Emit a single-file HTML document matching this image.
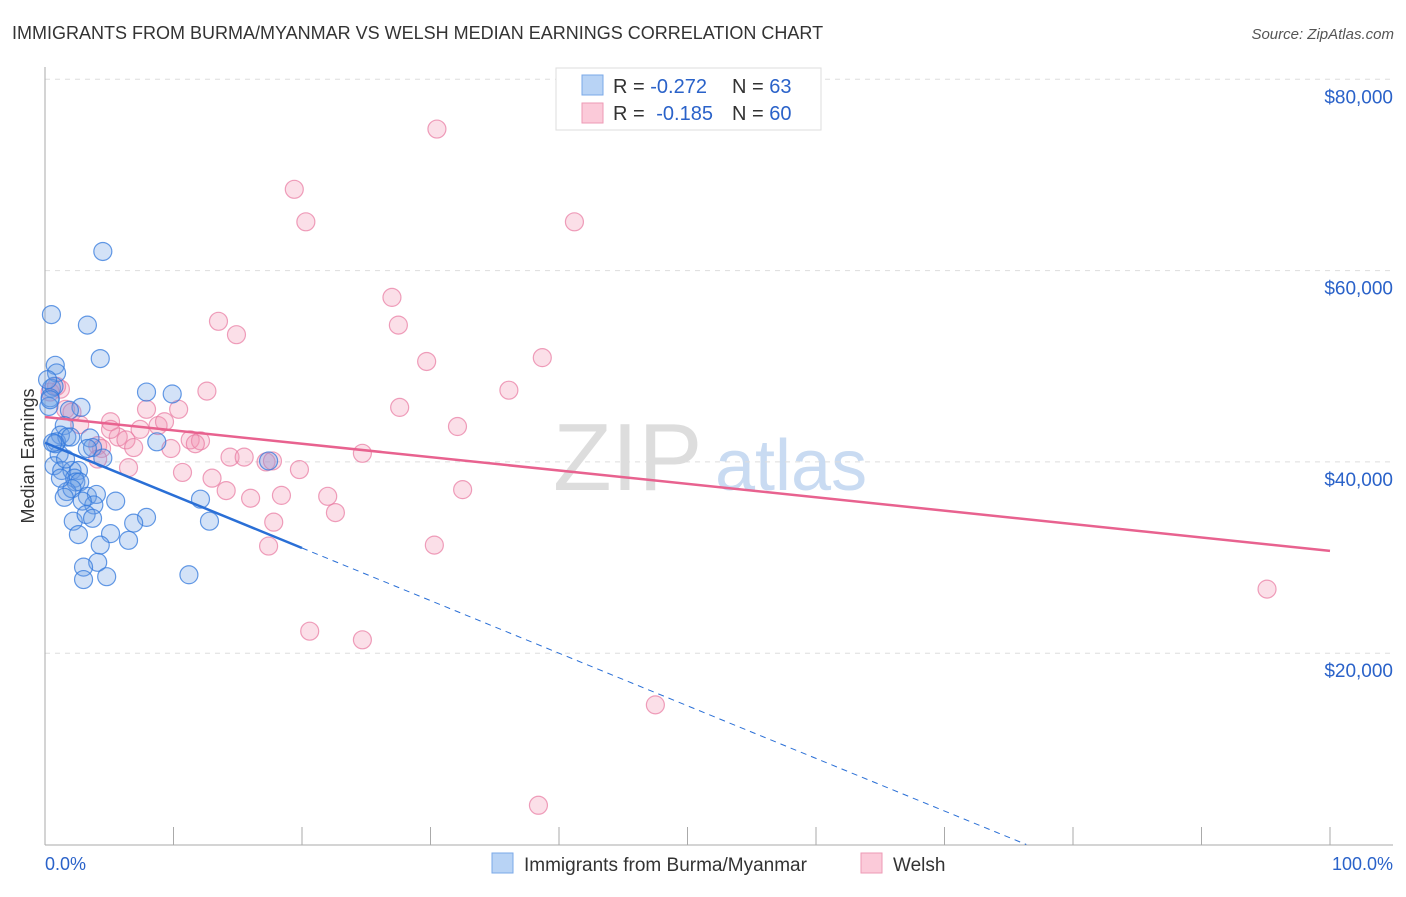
<!DOCTYPE html>
<html><head><meta charset="utf-8"><style>
body{margin:0;background:#fff;font-family:"Liberation Sans",sans-serif;}
svg text{font-family:"Liberation Sans",sans-serif;}
</style></head><body>
<svg id="chart" width="1406" height="892" xmlns="http://www.w3.org/2000/svg">
<text x="12" y="39" font-size="18" fill="#333">IMMIGRANTS FROM BURMA/MYANMAR VS WELSH MEDIAN EARNINGS CORRELATION CHART</text>
<text x="1394" y="39" font-size="15" fill="#555" font-style="italic" text-anchor="end">Source: ZipAtlas.com</text>
<g>
<text x="553" y="490" font-size="96" fill="#ddd" font-family="Liberation Serif">ZIP</text>
<text x="715" y="490" font-size="72" fill="#c9dbf2">atlas</text>
</g>
<g id="grid"></g><g id="axes"></g><g id="points"></g><g id="trends"></g>
<text transform="translate(34,456) rotate(-90)" font-size="18" fill="#333" text-anchor="middle">Median Earnings</text>
<text x="45" y="870" font-size="18" fill="#2a62c9">0.0%</text>
<text x="1393" y="870" font-size="18" fill="#2a62c9" text-anchor="end">100.0%</text>
<g>
<rect x="556" y="68" width="265" height="62" fill="#fff" stroke="#ddd"/>
<rect x="582" y="75" width="21" height="20" fill="#b8d3f5" stroke="#7aa8e8"/>
<text x="613" y="93" font-size="20" fill="#333">R = <tspan fill="#2a62c9">-0.272</tspan><tspan x="732">N = </tspan><tspan fill="#2a62c9">63</tspan></text>
<rect x="582" y="103" width="21" height="20" fill="#fbcad9" stroke="#ee9ab5"/>
<text x="613" y="120" font-size="20" fill="#333">R = <tspan fill="#2a62c9" dx="6">-0.185</tspan><tspan x="732">N = </tspan><tspan fill="#2a62c9">60</tspan></text>
</g>
<g>
<rect x="492" y="853" width="21" height="20" fill="#b8d3f5" stroke="#7aa8e8"/>
<text x="524" y="871" font-size="19" fill="#333">Immigrants from Burma/Myanmar</text>
<rect x="861" y="853" width="21" height="20" fill="#fbcad9" stroke="#ee9ab5"/>
<text x="893" y="871" font-size="19" fill="#333">Welsh</text>
</g>
</svg>
<script>
const yTicks=[20000,40000,60000,80000];
const yTickLabels=["$20,000","$40,000","$60,000","$80,000"];
const xTicks=[0,10,20,30,40,50,60,70,80,90,100];
const burmaX=[4.5,0.5,3.3,4.3,0.8,0.9,0.5,0.7,0.4,0.3,7.9,9.9,2.8,1.9,1.5,1.2,0.9,1.7,3.5,3.7,1.1,4.5,8.7,0.7,1.3,2.1,2.6,2.3,2.4,2.7,1.7,2.1,3.3,4,3.8,2.9,5.5,2.2,3.2,3.7,7.9,6.9,2.6,5.1,6.5,4.3,4.1,3,4.8,3,11.2,12.1,12.8,17.4,0.4,0.2,0.8,1.5,1.6,3.3,0.6,1.2,2];
const burmaY=[62000,55400,54300,50800,50100,49300,47700,47900,46700,45800,47300,47100,45700,45400,43800,42800,42100,42600,42500,41500,40800,40400,42100,39600,39100,39100,39100,38300,37900,37900,36900,37200,36400,36600,35500,35900,35900,33800,34500,34100,34200,33600,32400,32500,31800,31300,29500,29000,28000,27700,28200,36100,33800,40100,46500,48600,41900,36300,40300,41400,42000,38300,42600];
const welshX=[30.5,19.4,20.3,41.2,27,13.5,14.9,27.5,29.7,38.7,12.6,36.1,27.6,10.4,7.9,32.1,5.1,1.2,0.4,0.9,1.6,2.1,2.7,4.1,4.4,5.7,7.4,8.8,9.3,11.3,12.1,11.7,9.8,6.3,6.9,14.4,15.5,17.2,17.7,19.8,24.7,6.5,10.7,13,14.1,16,18.4,22,32.5,22.6,17.8,17.4,30.3,20.6,24.7,95.1,47.5,38.4,4.1,5.1];
const welshY=[74800,68500,65100,65100,57200,54700,53300,54300,50500,50900,47400,47500,45700,45500,45500,43700,44200,47600,47300,47900,45500,45200,43900,41700,41400,42600,43400,43800,44200,42300,42200,41900,41400,42300,41500,40500,40500,40000,40100,39200,40900,39400,38900,38300,37000,36200,36500,36400,37100,34700,33700,31200,31300,22300,21400,26700,14600,4100,40300,43400];
const burmaTrend=[42000,31000];
const welshTrend=[44700,30700];
const NS="http://www.w3.org/2000/svg";
const X0=45,X1=1330,YB=844.5,YS=191.3/20000;
const xs=v=>X0+(X1-X0)*v/100, ys=v=>YB-v*YS;
function mk(t,a,p){const e=document.createElementNS(NS,t);for(const k in a)e.setAttribute(k,a[k]);p.appendChild(e);return e;}
const grid=document.getElementById('grid'),axes=document.getElementById('axes'),pts=document.getElementById('points'),tr=document.getElementById('trends');
yTicks.forEach((v,i)=>{
 const l=mk('line',{x1:45,x2:1393,y1:ys(v),y2:ys(v),stroke:'#ddd','stroke-dasharray':'5,5'},grid);
 
 
 const t=mk('text',{x:1393,y:ys(v)+24,'font-size':19,fill:'#2a62c9','text-anchor':'end'},grid);
 t.textContent=yTickLabels[i];
 
 
});
const ax=mk('line',{x1:45,x2:1393,y1:845,y2:845,stroke:'#aaa'},axes);


const ay=mk('line',{x1:45,x2:45,y1:67,y2:845,stroke:'#aaa'},axes);


xTicks.forEach(v=>{
 const t=mk('line',{x1:xs(v),x2:xs(v),y1:827,y2:845,stroke:'#aaa'},axes);
 
 
});
welshX.forEach((x,i)=>{
 const c=mk('circle',{cx:xs(x),cy:ys(welshY[i]),r:9,fill:'rgba(242,150,180,0.3)',stroke:'rgba(232,120,160,0.7)','stroke-width':1.2},pts);
 
 
});
burmaX.forEach((x,i)=>{
 const c=mk('circle',{cx:xs(x),cy:ys(burmaY[i]),r:9,fill:'rgba(110,160,230,0.3)',stroke:'rgba(50,120,220,0.75)','stroke-width':1.2},pts);
 
 
});
const bSlope=(burmaTrend[1]-burmaTrend[0])/20;
const bEnd=-burmaTrend[0]/bSlope;
const b1=mk('line',{x1:xs(0),y1:ys(burmaTrend[0]),x2:xs(20),y2:ys(burmaTrend[1]),stroke:'#2a6fd6','stroke-width':2.5},tr);


const b2=mk('line',{x1:xs(20),y1:ys(burmaTrend[1]),x2:xs(bEnd),y2:ys(0),stroke:'#2a6fd6','stroke-width':1,'stroke-dasharray':'6,5'},tr);


const w=mk('line',{x1:xs(0),y1:ys(welshTrend[0]),x2:xs(100),y2:ys(welshTrend[1]),stroke:'#e8628f','stroke-width':2.5},tr);


</script>
</body></html>
